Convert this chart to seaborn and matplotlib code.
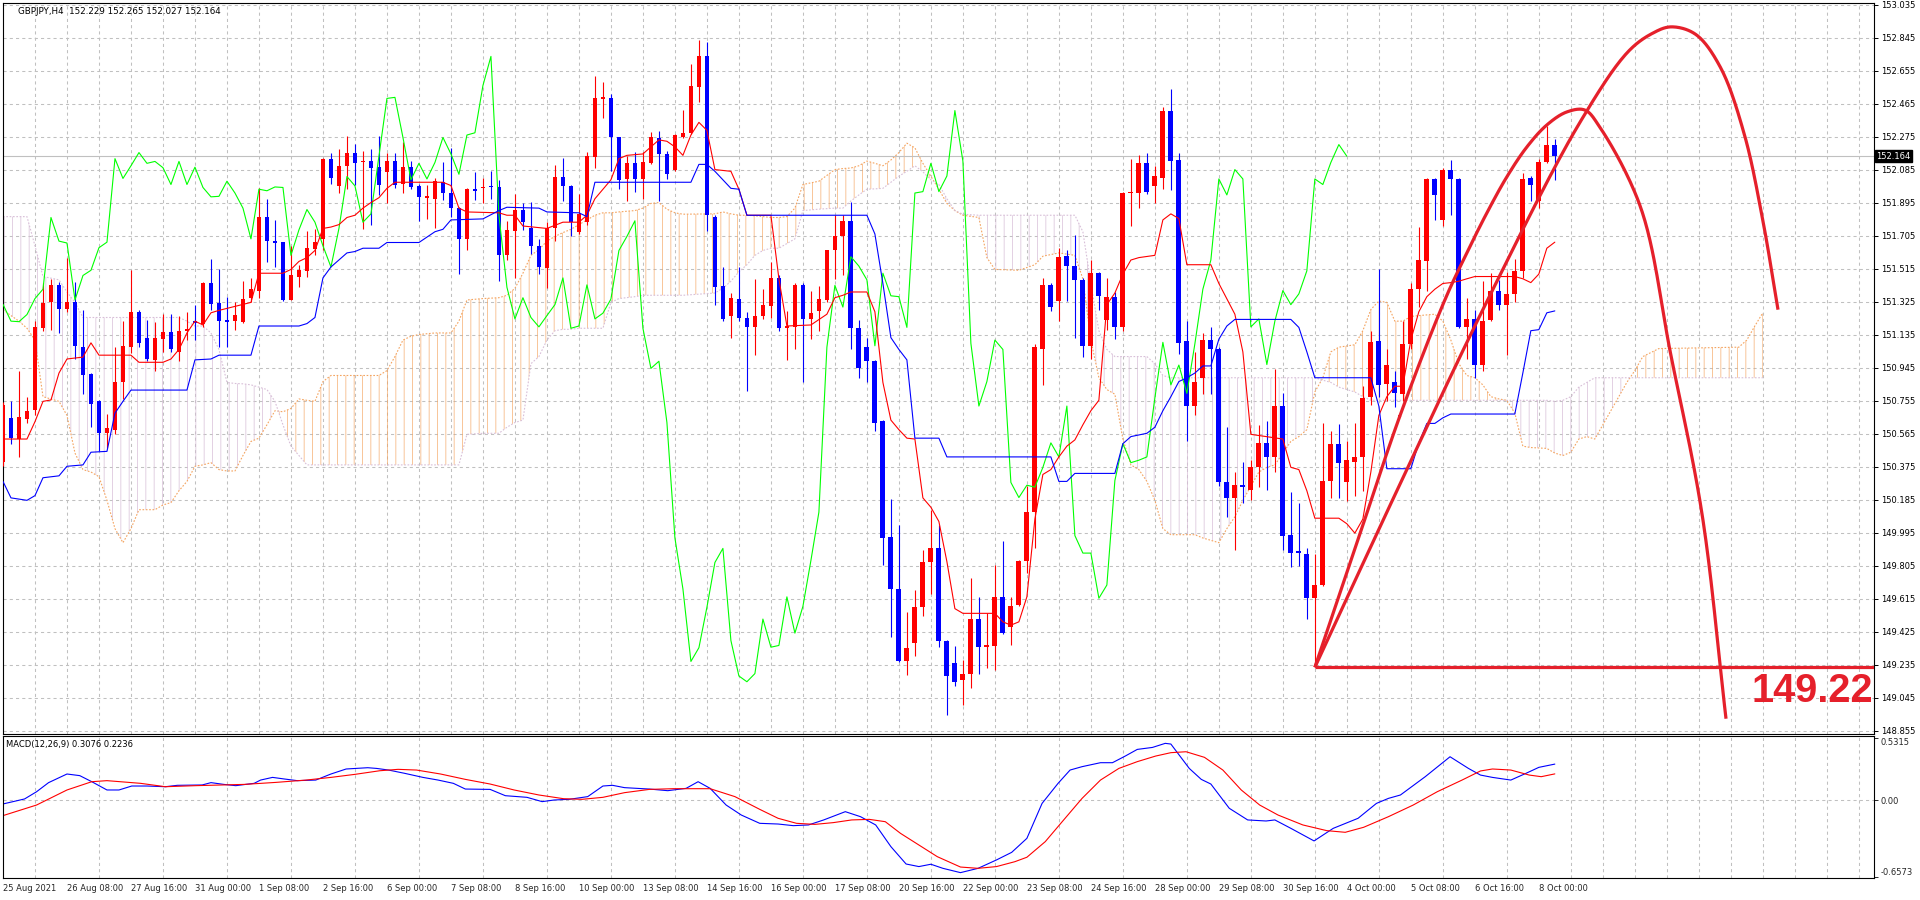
import numpy as np
import pandas as pd
import matplotlib
matplotlib.use("Agg")
import matplotlib.pyplot as plt
import matplotlib.transforms as mtransforms
import seaborn as sns

# ---- GBPJPY H4 candles (bar index 0 = 25 Aug 2021 00:00) ----
opens = [150.405, 150.654, 150.535, 150.649, 150.703, 151.175, 151.322, 151.420, 151.284, 151.322,
         151.067, 150.910, 150.752, 150.568, 150.589, 150.866, 151.067, 151.268, 151.116, 150.991,
         151.110, 151.154, 151.037, 151.159, 151.214, 151.197, 151.431, 151.317, 151.219, 151.214,
         151.208, 151.349, 151.387, 151.811, 151.675, 151.667, 151.336, 151.466, 151.504, 151.629,
         151.688, 152.150, 151.995, 152.109, 152.185, 152.128, 152.134, 152.104, 152.074, 152.134,
         152.006, 152.101, 151.993, 151.925, 151.919, 152.014, 151.952, 151.865, 151.688, 151.974,
         151.979, 151.993, 151.984, 151.593, 151.735, 151.857, 151.748, 151.648, 151.518, 151.748,
         152.047, 151.995, 151.729, 151.784, 152.158, 152.495, 152.497, 152.272, 152.033, 152.123,
         152.033, 152.123, 152.267, 152.177, 152.082, 152.272, 152.299, 152.565, 152.739, 151.811,
         151.417, 151.241, 151.344, 151.233, 151.181, 151.241, 151.300, 151.463, 151.175, 151.178,
         151.423, 151.227, 151.273, 151.336, 151.621, 151.702, 151.792, 151.173, 151.064, 150.983,
         150.638, 149.971, 149.672, 149.254, 149.363, 149.566, 149.824, 149.905, 149.374, 149.246,
         149.146, 149.184, 149.498, 149.336, 149.341, 149.626, 149.455, 149.577, 149.835, 150.114,
         151.051, 151.420, 151.328, 151.591, 151.531, 151.452, 151.070, 151.490, 151.219, 151.355,
         151.178, 151.952, 151.952, 152.123, 151.995, 152.041, 152.427, 152.142, 151.097, 150.725,
         150.888, 151.105, 151.056, 150.285, 150.196, 150.269, 150.242, 150.372, 150.513, 150.432,
         150.725, 149.984, 149.889, 149.870, 149.618, 149.694, 150.296, 150.508, 150.285, 150.405,
         150.432, 150.779, 151.097, 150.853, 150.861, 150.793, 151.083, 151.398, 151.561, 152.033,
         151.797, 152.087, 152.033, 151.181, 151.227, 150.964, 151.219, 151.390, 151.309, 151.371,
         151.504, 152.041, 151.906, 152.128, 152.229]
highs = [150.750, 150.752, 150.926, 150.779, 151.214, 151.431, 151.458, 151.441, 151.580, 151.441,
         151.281, 150.913, 150.758, 150.682, 151.064, 151.214, 151.507, 151.281, 151.219, 151.208,
         151.254, 151.254, 151.246, 151.268, 151.308, 151.441, 151.572, 151.512, 151.355, 151.322,
         151.444, 151.463, 151.979, 151.919, 151.797, 151.672, 151.648, 151.539, 151.735, 151.743,
         152.155, 152.185, 152.204, 152.280, 152.237, 152.196, 152.204, 152.280, 152.183, 152.185,
         152.245, 152.136, 152.006, 152.001, 152.041, 152.128, 152.210, 151.870, 151.979, 152.074,
         152.041, 152.077, 152.028, 151.789, 151.946, 151.892, 151.900, 151.688, 151.784, 152.115,
         152.155, 152.001, 151.946, 152.190, 152.625, 152.592, 152.522, 152.277, 152.163, 152.190,
         152.190, 152.305, 152.307, 152.196, 152.291, 152.429, 152.698, 152.834, 152.820, 151.824,
         151.526, 151.377, 151.526, 151.268, 151.458, 151.398, 151.553, 151.477, 151.273, 151.431,
         151.431, 151.390, 151.417, 151.626, 151.824, 151.824, 151.900, 151.219, 151.119, 150.991,
         150.644, 150.188, 150.039, 149.536, 149.667, 149.897, 150.128, 150.039, 149.379, 149.341,
         149.260, 149.735, 149.626, 149.531, 149.808, 149.949, 149.626, 149.840, 150.264, 151.083,
         151.463, 151.436, 151.634, 151.621, 151.708, 151.463, 151.566, 151.496, 151.463, 151.382,
         151.957, 152.150, 152.169, 152.183, 152.109, 152.449, 152.554, 152.183, 151.214, 151.037,
         151.146, 151.181, 151.064, 150.603, 150.345, 150.405, 150.413, 150.617, 150.638, 150.937,
         150.801, 150.231, 150.169, 149.905, 149.870, 150.630, 150.584, 150.622, 150.521, 150.630,
         150.839, 151.159, 151.512, 151.051, 150.929, 151.214, 151.431, 151.756, 152.039, 152.041,
         152.096, 152.142, 152.041, 151.349, 151.281, 151.444, 151.490, 151.450, 151.499, 151.572,
         152.069, 152.050, 152.150, 152.340, 152.265]
lows = [150.380, 150.508, 150.432, 150.630, 150.671, 151.159, 151.165, 151.143, 151.268, 150.996,
        150.793, 150.603, 150.467, 150.481, 150.562, 150.766, 151.029, 151.064, 150.983, 150.929,
        151.037, 151.037, 150.983, 151.105, 151.105, 151.181, 151.281, 151.064, 151.064, 151.165,
        151.203, 151.322, 151.349, 151.553, 151.526, 151.328, 151.333, 151.412, 151.471, 151.593,
        151.621, 152.006, 151.952, 151.974, 152.001, 151.743, 151.770, 151.941, 151.897, 151.979,
        151.952, 151.974, 151.792, 151.803, 151.751, 151.911, 151.816, 151.485, 151.621, 151.914,
        151.892, 151.919, 151.444, 151.566, 151.463, 151.740, 151.599, 151.485, 151.404, 151.675,
        151.906, 151.702, 151.716, 151.770, 152.096, 152.386, 152.077, 151.974, 151.906, 151.960,
        151.919, 152.117, 151.906, 152.033, 152.077, 152.267, 152.294, 152.476, 151.735, 151.309,
        151.214, 151.119, 151.214, 150.812, 151.018, 151.227, 151.235, 151.159, 150.991, 151.051,
        150.861, 151.113, 151.159, 151.322, 151.458, 151.477, 151.051, 150.888, 150.866, 150.584,
        149.808, 149.395, 149.249, 149.173, 149.287, 149.518, 149.640, 149.336, 148.947, 149.110,
        149.002, 149.102, 149.184, 149.219, 149.205, 149.411, 149.346, 149.571, 149.762, 149.905,
        150.847, 151.273, 151.214, 151.330, 151.119, 151.010, 150.996, 151.281, 151.165, 151.110,
        151.159, 151.762, 151.865, 151.946, 151.892, 151.974, 151.968, 151.024, 150.522, 150.676,
        150.793, 150.793, 150.264, 150.087, 149.897, 150.169, 150.183, 150.258, 150.242, 150.345,
        149.897, 149.797, 149.802, 149.498, 149.220, 149.688, 150.196, 150.196, 150.177, 150.204,
        150.237, 150.730, 150.779, 150.752, 150.720, 150.752, 151.051, 151.295, 151.390, 151.797,
        151.762, 151.824, 151.175, 150.996, 150.888, 150.929, 151.214, 151.281, 151.018, 151.322,
        151.463, 151.906, 151.865, 152.123, 152.027]
closes = [150.730, 150.540, 150.660, 150.698, 151.178, 151.317, 151.420, 151.284, 151.322, 151.072,
          150.904, 150.736, 150.568, 150.600, 150.866, 151.070, 151.268, 151.089, 150.996, 151.116,
          151.154, 151.051, 151.159, 151.167, 151.203, 151.436, 151.311, 151.214, 151.211, 151.252,
          151.344, 151.398, 151.811, 151.675, 151.664, 151.336, 151.477, 151.507, 151.637, 151.669,
          152.150, 152.036, 152.109, 152.185, 152.123, 152.134, 152.098, 152.001, 152.134, 152.001,
          152.101, 151.984, 151.930, 151.933, 152.020, 151.952, 151.865, 151.688, 151.974, 151.965,
          151.987, 151.984, 151.593, 151.740, 151.857, 151.784, 151.648, 151.526, 151.748, 152.047,
          151.993, 151.784, 151.832, 152.163, 152.497, 152.503, 152.272, 152.028, 152.123, 152.033,
          152.128, 152.272, 152.177, 152.060, 152.286, 152.299, 152.571, 152.739, 151.824, 151.409,
          151.227, 151.349, 151.235, 151.181, 151.246, 151.309, 151.463, 151.173, 151.186, 151.423,
          151.227, 151.260, 151.341, 151.621, 151.702, 151.792, 151.173, 150.942, 150.983, 150.630,
          149.965, 149.672, 149.254, 149.333, 149.566, 149.824, 149.905, 149.374, 149.170, 149.137,
          149.184, 149.498, 149.336, 149.346, 149.626, 149.417, 149.571, 149.835, 150.114, 151.064,
          151.420, 151.295, 151.585, 151.531, 151.452, 151.072, 151.490, 151.360, 151.355, 151.178,
          151.952, 151.960, 152.123, 151.960, 152.050, 152.427, 152.136, 151.086, 150.725, 150.866,
          151.105, 151.051, 150.285, 150.198, 150.269, 150.258, 150.372, 150.513, 150.432, 150.725,
          149.979, 149.878, 149.878, 149.618, 149.694, 150.296, 150.508, 150.399, 150.413, 150.432,
          150.771, 151.092, 150.847, 150.961, 150.798, 151.083, 151.398, 151.566, 152.033, 151.941,
          152.087, 152.033, 151.181, 151.227, 150.964, 151.214, 151.390, 151.309, 151.371, 151.504,
          152.033, 152.001, 152.128, 152.231, 152.164]

# ---- Ichimoku lines (bar index, price) ----
tenkan_x = [0, 3, 4, 5, 6, 7, 8, 10, 11, 12, 16, 17, 20, 21, 22, 23, 24, 25, 26, 27,
            31, 32, 35, 36, 37, 38, 39, 40, 41, 42, 43, 44, 45, 46, 47, 48, 49, 55, 56, 57,
            58, 62, 63, 64, 65, 68, 70, 72, 73, 74, 76, 77, 78, 80, 81, 82, 83, 84, 85, 86,
            87, 88, 89, 91, 92, 93, 96, 97, 98, 101, 103, 104, 105, 106, 108, 109, 110, 111, 112, 113,
            114, 115, 116, 117, 118, 119, 120, 124, 125, 126, 127, 128, 129, 130, 131, 132, 133, 134, 135, 136,
            137, 138, 139, 140, 141, 142, 144, 145, 146, 147, 148, 151, 152, 154, 155, 156, 160, 161, 162, 163,
            164, 167, 168, 169, 170, 171, 172, 173, 174, 175, 176, 177, 178, 179, 180, 181, 182, 183, 184, 189,
            190, 191, 192, 193, 194]
tenkan = [150.535, 150.535, 150.635, 150.752, 150.760, 150.915, 150.996, 151.007, 151.089, 151.018,
          151.018, 150.977, 150.977, 150.996, 151.051, 151.146, 151.214, 151.192, 151.262, 151.276,
          151.322, 151.490, 151.490, 151.512, 151.558, 151.580, 151.621, 151.748, 151.756, 151.770,
          151.811, 151.824, 151.865, 151.897, 151.925, 151.979, 152.014, 152.014, 151.995, 151.865,
          151.843, 151.838, 151.824, 151.824, 151.762, 151.748, 151.784, 151.784, 151.824, 151.919,
          152.028, 152.150, 152.169, 152.177, 152.218, 152.258, 152.250, 152.218, 152.169, 152.286,
          152.359, 152.313, 152.087, 152.077, 151.974, 151.824, 151.824, 151.458, 151.186, 151.192,
          151.254, 151.349, 151.363, 151.382, 151.382, 151.268, 150.861, 150.644, 150.589, 150.540,
          150.535, 150.196, 150.142, 150.060, 149.829, 149.558, 149.531, 149.531, 149.482, 149.463,
          149.482, 149.626, 150.074, 150.331, 150.359, 150.432, 150.494, 150.530, 150.617, 150.698,
          150.758, 151.309, 151.376, 151.485, 151.566, 151.580, 151.593, 151.797, 151.832, 151.805,
          151.539, 151.539, 151.431, 151.254, 151.037, 150.562, 150.535, 150.372, 150.359, 150.237,
          150.079, 150.079, 150.047, 149.993, 150.074, 150.345, 150.671, 150.779, 150.839, 150.839,
          151.105, 151.268, 151.355, 151.398, 151.431, 151.436, 151.444, 151.458, 151.471, 151.471,
          151.458, 151.436, 151.485, 151.634, 151.669]

kijun_x = [0, 1, 3, 4, 5, 7, 8, 10, 11, 13, 14, 15, 16, 23, 24, 26, 27, 31, 32, 37,
           38, 39, 40, 41, 43, 44, 45, 47, 48, 52, 54, 55, 56, 60, 62, 63, 67, 68, 72, 73,
           74, 86, 87, 88, 89, 91, 92, 93, 108, 109, 110, 111, 112, 113, 114, 117, 118, 131, 132, 133,
           134, 139, 140, 141, 143, 144, 145, 146, 147, 148, 149, 150, 151, 152, 153, 154, 160, 161, 162, 163,
           164, 171, 172, 173, 176, 177, 178, 179, 180, 181, 189, 190, 191, 192, 193, 194]
kijun = [150.291, 150.196, 150.182, 150.209, 150.312, 150.323, 150.378, 150.386, 150.459, 150.464,
         150.684, 150.752, 150.817, 150.817, 150.991, 150.996, 151.018, 151.018, 151.186, 151.186,
         151.200, 151.235, 151.463, 151.526, 151.607, 151.615, 151.634, 151.634, 151.667, 151.667,
         151.729, 151.743, 151.797, 151.803, 151.851, 151.870, 151.865, 151.843, 151.838, 151.816,
         152.014, 152.014, 152.117, 152.117, 152.077, 151.979, 151.974, 151.824, 151.824, 151.716,
         151.431, 151.119, 151.051, 150.991, 150.540, 150.540, 150.432, 150.432, 150.291, 150.291,
         150.337, 150.337, 150.508, 150.549, 150.568, 150.603, 150.698, 150.779, 150.866, 150.888,
         150.915, 150.956, 150.956, 151.110, 151.186, 151.224, 151.224, 151.224, 151.178, 151.037,
         150.888, 150.888, 150.725, 150.364, 150.364, 150.513, 150.625, 150.625, 150.657, 150.679,
         150.679, 150.915, 151.159, 151.165, 151.262, 151.273]

# cloud (already shifted 26 bars ahead)
cloud_x = [0, 1, 2, 3, 4, 5, 7, 8, 9, 10,
           11, 12, 13, 14, 15, 16, 17, 19, 20, 21,
           22, 23, 24, 25, 26, 27, 28, 29, 30, 31,
           32, 33, 34, 35, 36, 37, 38, 39, 40, 41,
           47, 48, 49, 50, 51, 52, 54, 56, 57, 58,
           60, 62, 63, 64, 65, 66, 67, 68, 69, 70,
           71, 72, 73, 74, 75, 76, 77, 79, 80, 81,
           82, 83, 84, 85, 89, 90, 91, 92, 93, 94,
           95, 96, 97, 98, 99, 100, 102, 104, 105, 106,
           107, 108, 109, 110, 111, 112, 113, 114, 115, 116,
           117, 118, 119, 120, 122, 123, 124, 127, 129, 130,
           132, 134, 135, 136, 137, 138, 139, 140, 141, 142,
           143, 144, 145, 146, 149, 150, 152, 153, 154, 155,
           156, 157, 158, 159, 160, 161, 162, 163, 164, 165,
           166, 167, 169, 170, 171, 172, 173, 174, 175, 176,
           177, 179, 180, 181, 182, 183, 184, 185, 186, 187,
           188, 189, 190, 191, 193, 194, 195, 196, 197, 198,
           199, 200, 201, 202, 203, 204, 205, 207, 217, 218,
           219, 220]
span_a = [151.281, 151.246, 151.214, 151.173, 151.105, 150.779, 150.752, 150.671, 150.454, 150.359,
          150.345, 150.318, 150.182, 150.019, 149.938, 150.019, 150.128, 150.128, 150.155, 150.169,
          150.237, 150.291, 150.378, 150.386, 150.399, 150.359, 150.351, 150.351, 150.440, 150.521,
          150.540, 150.617, 150.698, 150.692, 150.711, 150.766, 150.758, 150.752, 150.866, 150.901,
          150.901, 150.929, 151.010, 151.105, 151.127, 151.137, 151.146, 151.146, 151.214, 151.336,
          151.344, 151.349, 151.363, 151.403, 151.490, 151.593, 151.626, 151.675, 151.702, 151.724,
          151.743, 151.770, 151.797, 151.824, 151.838, 151.838, 151.843, 151.851, 151.865, 151.892,
          151.897, 151.859, 151.838, 151.830, 151.832, 151.843, 151.832, 151.824, 151.824, 151.821,
          151.816, 151.811, 151.811, 151.816, 151.865, 152.001, 152.020, 152.087, 152.093, 152.096,
          152.109, 152.136, 152.123, 152.109, 152.142, 152.185, 152.239, 152.212, 152.123, 152.049,
          151.974, 151.892, 151.851, 151.824, 151.811, 151.580, 151.512, 151.507, 151.539, 151.588,
          151.607, 151.593, 151.458, 151.105, 150.888, 150.820, 150.793, 150.535, 150.386, 150.359,
          150.291, 150.182, 150.019, 149.984, 149.984, 149.965, 149.938, 150.019, 150.087, 150.182,
          150.264, 150.345, 150.372, 150.386, 150.454, 150.521, 150.549, 150.589, 150.806, 150.888,
          151.037, 151.064, 151.078, 151.159, 151.281, 151.330, 151.322, 151.214, 151.214, 151.241,
          151.246, 151.254, 151.214, 151.105, 150.969, 150.901, 150.888, 150.847, 150.779, 150.766,
          150.758, 150.684, 150.494, 150.486, 150.481, 150.454, 150.440, 150.459, 150.535, 150.549,
          150.535, 150.617, 150.698, 150.779, 150.861, 150.929, 151.010, 151.056, 151.064, 151.105,
          151.186, 151.262]
span_b = [151.816, 151.816, 151.816, 151.816, 151.648, 151.471, 151.452, 151.382, 151.322, 151.235,
          151.235, 151.235, 151.235, 151.235, 151.235, 151.235, 151.235, 151.235, 151.235, 151.235,
          151.235, 151.214, 151.186, 151.186, 151.146, 151.051, 150.861, 150.855, 150.853, 150.847,
          150.834, 150.820, 150.752, 150.617, 150.494, 150.440, 150.386, 150.386, 150.386, 150.386,
          150.386, 150.386, 150.386, 150.386, 150.386, 150.386, 150.386, 150.386, 150.386, 150.562,
          150.568, 150.568, 150.603, 150.630, 150.644, 150.969, 151.010, 151.105, 151.159, 151.167,
          151.167, 151.173, 151.173, 151.173, 151.173, 151.322, 151.344, 151.355, 151.363, 151.363,
          151.363, 151.363, 151.363, 151.363, 151.376, 151.403, 151.444, 151.498, 151.539, 151.593,
          151.621, 151.634, 151.634, 151.661, 151.688, 151.851, 151.859, 151.865, 151.865, 151.906,
          151.941, 151.974, 151.976, 151.979, 152.014, 152.049, 152.077, 152.109, 152.074, 152.028,
          152.001, 151.919, 151.851, 151.830, 151.824, 151.824, 151.824, 151.824, 151.824, 151.824,
          151.824, 151.824, 151.729, 151.431, 151.159, 151.051, 151.010, 151.010, 151.010, 151.010,
          151.010, 150.969, 150.901, 150.888, 150.888, 150.888, 150.888, 150.888, 150.888, 150.888,
          150.888, 150.888, 150.888, 150.888, 150.888, 150.888, 150.888, 150.888, 150.888, 150.874,
          150.861, 150.834, 150.806, 150.779, 150.758, 150.758, 150.758, 150.758, 150.758, 150.758,
          150.758, 150.758, 150.758, 150.758, 150.758, 150.758, 150.758, 150.758, 150.758, 150.758,
          150.758, 150.758, 150.758, 150.758, 150.758, 150.752, 150.758, 150.779, 150.834, 150.861,
          150.888, 150.888, 150.888, 150.888, 150.888, 150.888, 150.888, 150.888, 150.888, 150.888,
          150.888, 150.888]
chikou_shift = 26

# ---- MACD(12,26,9) panel ----
macd_x = [0, 2.7, 4.2, 5.7, 8.0, 9.6, 11.1, 13.0, 14.5, 16.1, 18.0, 20.3, 21.8, 24.9, 26.0, 27.6, 29.1,
          31.4, 32.2, 33.7, 35.2, 36.8, 39.1, 41.0, 42.9, 45.6, 46.7, 48.2, 50.2, 52.5, 54.4, 56.3, 57.8,
          60.9, 62.8, 65.5, 67.4, 68.9, 70.8, 73.1, 75.0, 76.2, 77.7, 80.8, 83.1, 85.4, 86.9, 88.4, 90.4,
          92.3, 94.6, 96.9, 98.8, 100.7, 102.6, 105.3, 107.2, 109.1, 111.0, 112.9, 114.5, 116.0, 117.5,
          119.7, 121.9, 124.2, 126.1, 128.0, 129.9, 131.9, 133.4, 134.9, 137.2, 138.7, 140.3, 141.8, 143.7,
          145.3, 146.0, 148.3, 149.8, 151.0, 153.3, 155.6, 157.9, 159.0, 161.0, 163.9, 166.3, 169.4, 171.7,
          173.2, 174.7, 177.8, 180.9, 183.2, 184.7, 186.2, 188.5, 190.4, 192.0, 194.0]
macd_main = [-0.034, 0.009, 0.071, 0.149, 0.223, 0.209, 0.157, 0.086, 0.086, 0.120, 0.120, 0.114, 0.126,
             0.129, 0.149, 0.134, 0.123, 0.143, 0.171, 0.194, 0.180, 0.166, 0.171, 0.223, 0.266, 0.277,
             0.271, 0.257, 0.229, 0.194, 0.171, 0.143, 0.094, 0.091, 0.037, 0.023, -0.014, 0.000, 0.006,
             0.029, 0.120, 0.126, 0.106, 0.094, 0.080, 0.100, 0.157, 0.100, -0.043, -0.129, -0.200,
             -0.206, -0.220, -0.214, -0.171, -0.100, -0.143, -0.214, -0.400, -0.549, -0.571, -0.551,
             -0.586, -0.623, -0.586, -0.514, -0.449, -0.329, -0.029, 0.143, 0.257, 0.286, 0.320, 0.320,
             0.377, 0.434, 0.451, 0.486, 0.480, 0.271, 0.177, 0.137, -0.071, -0.171, -0.180, -0.171,
             -0.243, -0.351, -0.243, -0.157, -0.029, 0.014, 0.043, 0.200, 0.371, 0.271, 0.214, 0.194,
             0.171, 0.229, 0.280, 0.308]
signal_x = [0, 4.2, 8.0, 11.1, 13.0, 17.2, 20.3, 24.1, 30.2, 34.1, 37.9, 41.0, 44.0, 47.1, 49.4, 51.7,
            54.7, 57.8, 60.9, 63.9, 67.0, 70.1, 72.4, 75.0, 77.7, 80.8, 83.8, 88.4, 91.5, 94.6, 96.9,
            99.2, 101.5, 103.8, 106.1, 108.3, 110.3, 112.2, 114.5, 116.8, 119.7, 121.9, 124.2, 126.5,
            128.0, 130.3, 132.6, 134.9, 137.2, 139.5, 141.8, 144.1, 146.0, 147.9, 150.2, 152.5, 154.8,
            157.1, 159.4, 162.5, 165.5, 167.8, 170.1, 173.2, 176.3, 179.3, 182.4, 184.7, 186.2, 188.5,
            190.8, 192.3, 194.0]
signal = [-0.134, -0.043, 0.086, 0.157, 0.166, 0.143, 0.114, 0.123, 0.134, 0.151, 0.171, 0.194, 0.220,
          0.251, 0.263, 0.257, 0.223, 0.177, 0.137, 0.086, 0.043, 0.011, 0.006, 0.023, 0.063, 0.091,
          0.097, 0.097, 0.029, -0.080, -0.157, -0.200, -0.209, -0.194, -0.171, -0.166, -0.186, -0.286,
          -0.386, -0.486, -0.575, -0.586, -0.571, -0.529, -0.491, -0.357, -0.171, 0.014, 0.171, 0.271,
          0.329, 0.377, 0.406, 0.414, 0.366, 0.257, 0.086, -0.043, -0.129, -0.214, -0.263, -0.277,
          -0.234, -0.143, -0.043, 0.071, 0.171, 0.249, 0.266, 0.257, 0.214, 0.200, 0.224]

# ---- axis labels ----
time_labels = ["25 Aug 2021", "26 Aug 08:00", "27 Aug 16:00", "31 Aug 00:00", "1 Sep 08:00",
               "2 Sep 16:00", "6 Sep 00:00", "7 Sep 08:00", "8 Sep 16:00", "10 Sep 00:00",
               "13 Sep 08:00", "14 Sep 16:00", "16 Sep 00:00", "17 Sep 08:00", "20 Sep 16:00",
               "22 Sep 00:00", "23 Sep 08:00", "24 Sep 16:00", "28 Sep 00:00", "29 Sep 08:00",
               "30 Sep 16:00", "4 Oct 00:00", "5 Oct 08:00", "6 Oct 16:00", "8 Oct 00:00"]
price_levels = [148.855, 149.045, 149.235, 149.425, 149.615, 149.805, 149.995, 150.185, 150.375,
                150.565, 150.755, 150.945, 151.135, 151.325, 151.515, 151.705, 151.895, 152.085,
                152.275, 152.465, 152.655, 152.845, 153.035]
macd_levels = [-0.6573, 0.0, 0.5315]

# ---- hand-drawn objects (bar index, price) ----
level_price = 149.22
level_start = 164
small_arc_x = [164.0, 169.3, 174.6, 180.25, 183.0, 185.5, 188.0, 190.5, 193.0, 195.5, 197.75, 199.6,
               204.75, 208.5, 212.4, 215.4]
small_arc_y = [149.22, 149.942, 150.664, 151.336, 151.607, 151.837, 152.045, 152.217, 152.344, 152.419,
               152.430, 152.333, 151.866, 151.020, 150.104, 148.924]
big_arc_x = [164.0, 174.6, 185.6, 197.1, 203.2, 206.25, 208.55, 211.6, 214.7, 217.7, 220.0, 221.9]
big_arc_y = [149.22, 150.271, 151.336, 152.356, 152.768, 152.873, 152.909, 152.866, 152.676, 152.288,
             151.795, 151.280]

last_price = 152.164

# ---------------------------------------------------------------------------
sns.set_theme(style="white")
plt.rcParams["font.family"] = ["DejaVu Sans"]
plt.rcParams["hatch.linewidth"] = 0.6

W, H = 1920, 900
fig = plt.figure(figsize=(W / 100, H / 100), dpi=100)
fig.patch.set_facecolor("white")


def px_axes(left, top, right, bottom):
    return fig.add_axes([left / W, 1 - bottom / H, (right - left) / W, (bottom - top) / H])


ax = px_axes(2.5, 3, 1874, 734)
mx = px_axes(2.5, 736, 1874, 878)
XLIM = (-0.06, 233.9)
GRID = dict(color="#C0C0C0", linestyle=(0, (3, 3)), linewidth=0.75)
RED, BLUE = "#FF0000", "#0000FF"
DRAW = "#E5202B"
SANDY, THISTLE = "#F4A460", "#D8BFD8"

for a in (ax, mx):
    a.set_facecolor("white")
    a.set_xlim(*XLIM)
    for s in a.spines.values():
        s.set_color("black")
        s.set_linewidth(0.8)

# main panel
ax.set_ylim(148.836, 153.0465)
ax.set_xticks(np.arange(4, 234, 4))
ax.tick_params(axis="x", length=0, labelbottom=False)
ax.yaxis.tick_right()
ax.set_yticks(price_levels, [f"{p:.3f}" for p in price_levels])
ax.tick_params(axis="y", direction="out", length=3, width=0.7, labelsize=6, pad=2, colors="black")
ax.grid(True, **GRID)
ax.set_axisbelow(True)

df = pd.DataFrame({"o": opens, "h": highs, "l": lows, "c": closes})
df["x"] = np.arange(len(df))
df["col"] = np.where(df["c"] > df["o"], RED, BLUE)

# cloud: vertical hatching, dotted edges
ca, cb = np.array(span_a), np.array(span_b)
ax.fill_between(cloud_x, ca, cb, where=ca >= cb, interpolate=True, facecolor="none",
                edgecolor=matplotlib.colors.to_rgba(SANDY, 0.75), hatch="||", linewidth=0, zorder=1.5)
ax.fill_between(cloud_x, ca, cb, where=ca < cb, interpolate=True, facecolor="none",
                edgecolor=matplotlib.colors.to_rgba(THISTLE, 0.85), hatch="||", linewidth=0, zorder=1.5)
ax.plot(cloud_x, ca, color=SANDY, lw=0.8, ls=(0, (1.5, 1.5)), zorder=1.6)
ax.plot(cloud_x, cb, color=THISTLE, lw=0.8, ls=(0, (1.5, 1.5)), zorder=1.6)

ax.axhline(last_price, color="#C0C0C0", lw=0.8, zorder=1.8)

# candles
ax.vlines(df["x"], df["l"], df["h"], colors=df["col"], lw=0.8, zorder=3)
body_low = df[["o", "c"]].min(axis=1)
body_h = (df["c"] - df["o"]).abs().clip(lower=0.006)
ax.bar(df["x"], body_h, bottom=body_low, width=0.6, color=df["col"], linewidth=0, zorder=3.2)

# ichimoku lines
chikou = pd.DataFrame({"x": np.arange(len(closes) - chikou_shift), "y": closes[chikou_shift:]})
sns.lineplot(data=chikou, x="x", y="y", ax=ax, color="#00FF00", lw=0.8, estimator=None, sort=False, zorder=4)
sns.lineplot(x=tenkan_x, y=tenkan, ax=ax, color=RED, lw=0.8, estimator=None, sort=False, zorder=4)
sns.lineplot(x=kijun_x, y=kijun, ax=ax, color=BLUE, lw=0.8, estimator=None, sort=False, zorder=4)


def smooth(xs, ys, n=30):
    # centripetal catmull-rom through the drawn object's anchor points
    p = np.column_stack([np.asarray(xs, float) * 8.0, np.asarray(ys, float) / 0.00576])
    p = np.vstack([2 * p[0] - p[1], p, 2 * p[-1] - p[-2]])
    out = []
    for i in range(len(p) - 3):
        p0, p1, p2, p3 = p[i:i + 4]
        t0 = 0.0
        t1 = t0 + np.linalg.norm(p1 - p0) ** 0.5
        t2 = t1 + np.linalg.norm(p2 - p1) ** 0.5
        t3 = t2 + np.linalg.norm(p3 - p2) ** 0.5
        t = np.linspace(t1, t2, n)[:, None]
        a1 = (t1 - t) / (t1 - t0) * p0 + (t - t0) / (t1 - t0) * p1
        a2 = (t2 - t) / (t2 - t1) * p1 + (t - t1) / (t2 - t1) * p2
        a3 = (t3 - t) / (t3 - t2) * p2 + (t - t2) / (t3 - t2) * p3
        b1 = (t2 - t) / (t2 - t0) * a1 + (t - t0) / (t2 - t0) * a2
        b2 = (t3 - t) / (t3 - t1) * a2 + (t - t1) / (t3 - t1) * a3
        out.append((t2 - t) / (t2 - t1) * b1 + (t - t1) / (t2 - t1) * b2)
    c = np.vstack(out)
    return c[:, 0] / 8.0, c[:, 1] * 0.00576


for xs, ys in ((small_arc_x, small_arc_y), (big_arc_x, big_arc_y)):
    sx, sy = smooth(xs, ys)
    ax.plot(sx, sy, color=DRAW, lw=2.3, solid_capstyle="butt", zorder=6)
ax.hlines(level_price, level_start, XLIM[1], color=DRAW, lw=2.3, zorder=6)

blend = mtransforms.blended_transform_factory(ax.transAxes, ax.transData)
ax.text(0.9993, 149.022, f"{level_price:.2f}", transform=blend, ha="right", va="baseline",
        fontsize=28.5, fontweight="bold", family=["Liberation Sans", "DejaVu Sans"], color=DRAW, zorder=7)
ax.text(1.0012, last_price, f"{last_price:.3f}", transform=blend, ha="left", va="center",
        fontsize=6, color="white", zorder=8, clip_on=False,
        bbox=dict(boxstyle="square,pad=0.18", fc="black", ec="black"))

# macd panel
mx.set_ylim(-0.669, 0.549)
sns.lineplot(x=macd_x, y=macd_main, ax=mx, color=BLUE, lw=0.8, estimator=None, sort=False)
sns.lineplot(x=signal_x, y=signal, ax=mx, color=RED, lw=0.8, estimator=None, sort=False)
mx.axhline(0, **GRID, zorder=0)
mx.set_xticks(np.arange(4, 234, 4), minor=True)
mx.grid(True, which="minor", axis="x", **GRID)
mx.set_axisbelow(True)
mx.set_xticks(np.arange(0, 8 * len(time_labels), 8), time_labels)
for lab in mx.get_xticklabels():
    lab.set_ha("left")
mx.tick_params(axis="x", which="major", direction="out", length=3, width=0.7, labelsize=6, pad=1.5)
mx.tick_params(axis="x", which="minor", length=0)
mx.yaxis.tick_right()
mx.set_yticks(macd_levels, ["-0.6573", "0.00", "0.5315"])
mx.tick_params(axis="y", direction="out", length=3, width=0.7, labelsize=6, pad=2)
labs = mx.get_yticklabels()
labs[0].set_va("bottom")
labs[2].set_va("top")
ax.set_xlabel("")
ax.set_ylabel("")
mx.set_xlabel("")
mx.set_ylabel("")

fig.text(18 / W, 1 - 11 / H, "GBPJPY,H4  152.229 152.265 152.027 152.164", fontsize=6.3,
         ha="left", va="center", color="black")
fig.text(6 / W, 1 - 745 / H, "MACD(12,26,9) 0.3076 0.2236", fontsize=6, ha="left", va="center",
         color="black")

fig.savefig("out.png", dpi=100, facecolor="white")
